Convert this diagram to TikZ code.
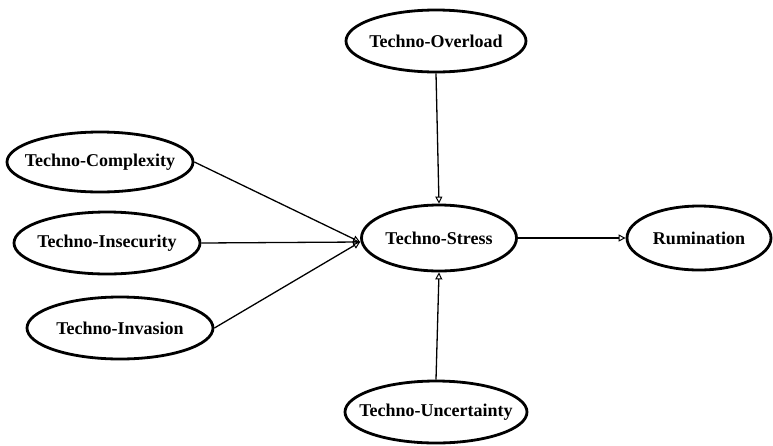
\documentclass[tikz,border=0pt]{standalone}
\usepackage{fontspec}
\setmainfont{Liberation Serif}
\usetikzlibrary{shapes.geometric,arrows.meta}
\begin{document}
\begin{tikzpicture}[x=1pt,y=-1pt,
  latent/.style={ellipse,draw,line width=2.8pt,inner sep=-60pt,
    font=\fontsize{18}{20}\selectfont\bfseries},
  path/.style={line width=1.3pt,-{Triangle[open,length=7pt,width=7pt,line width=1pt]}}]
\useasboundingbox (0,0) rectangle (773,445);
\node[latent,minimum width=180pt,minimum height=62pt] (ov) at (436,41) {Techno-Overload};
\node[latent,minimum width=186pt,minimum height=60pt] (cx) at (100,162) {Techno-Complexity};
\node[latent,minimum width=186pt,minimum height=62pt] (is) at (107,243) {Techno-Insecurity};
\node[latent,minimum width=186pt,minimum height=62pt] (iv) at (120,328) {Techno-Invasion};
\node[latent,minimum width=155pt,minimum height=66pt] (st) at (439,238) {Techno-Stress};
\node[latent,minimum width=144pt,minimum height=64pt] (ru) at (699,238) {Rumination};
\node[latent,minimum width=182pt,minimum height=62pt] (un) at (436,412) {Techno-Uncertainty};
\coordinate (w) at ([yshift=-4pt]st.west);
\draw[path] (cx.east) -- (w);
\draw[path] (is.east) -- (w);
\draw[path] (iv.east) -- (w);
\draw[path] (ov.south) -- (st.north);
\draw[path] (un.north) -- (st.south);
\draw[path] (st.east) -- (ru.west);
\end{tikzpicture}
\end{document}
